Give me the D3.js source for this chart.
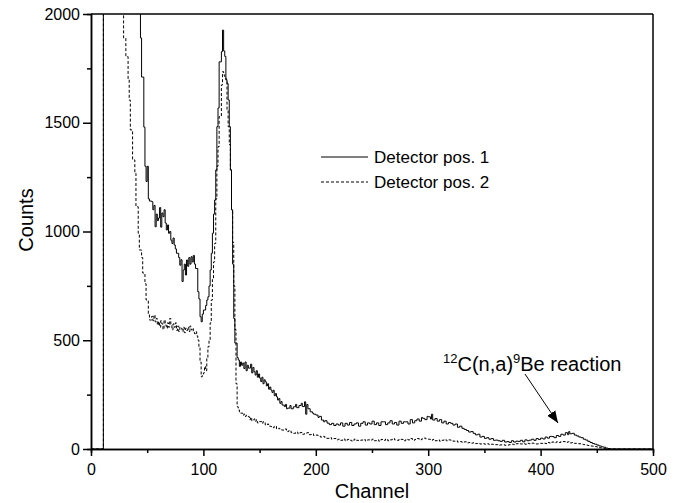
<!DOCTYPE html>
<html>
<head>
<meta charset="utf-8">
<script src="https://cdn.jsdelivr.net/npm/d3@7"></script>
<style>
  body { margin: 0; background: #fff; }
  svg { display: block; font-family: Arial, "Liberation Sans", sans-serif; }
  .axis path, .axis line { stroke: #000; stroke-width: 1.5; }
  .axis text { font-size: 16px; fill: #000; }
</style>
</head>
<body>
<svg id="chart"></svg>
<script>
// Axis ticks
const xTicks = [0, 100, 200, 300, 400, 500];
const xMinorTicks = [50, 150, 250, 350, 450];
const yTicks = [0, 500, 1000, 1500, 2000];
const yMinorTicks = [250, 750, 1250, 1750];

// Series names
const seriesNames = ["Detector pos. 1", "Detector pos. 2"];

// Detector pos. 1 spectrum: [channel, counts]
const pos1 = [
    [0, 0], [11, 2600], [44, 1890], [45, 1710], [47, 1480], [48, 1300], [49, 1230], [50, 1300],
    [51, 1150], [52, 1140], [54, 1137], [55, 1100], [56, 1120], [57, 1022], [58, 1080], [59, 1050],
    [60, 1062], [61, 1110], [62, 1020], [63, 1085], [64, 1068], [65, 1100], [66, 1039], [67, 1007],
    [68, 1030], [69, 992], [70, 1000], [71, 960], [72, 945], [73, 970], [74, 938], [75, 920],
    [76, 900], [78, 880], [79, 845], [80, 870], [81, 770], [82, 823], [83, 850], [84, 800],
    [85, 869], [86, 840], [87, 880], [88, 850], [89, 884], [90, 860], [91, 890], [92, 850],
    [93, 830], [95, 723], [96, 690], [97, 608], [98, 585], [99, 620], [100, 639], [102, 660],
    [103, 685], [104, 700], [105, 750], [106, 823], [107, 900], [108, 992], [109, 1080], [110, 1145],
    [111, 1283], [112, 1482], [113, 1568], [114, 1780], [116, 1827], [117, 1926], [118, 1830], [119, 1805],
    [120, 1697], [121, 1680], [122, 1605], [123, 1482], [124, 1283], [125, 1100], [126, 850], [127, 600],
    [128, 487], [130, 420], [131, 409], [132, 380], [133, 400], [134, 385], [135, 395], [136, 370],
    [137, 400], [138, 360], [139, 385], [140, 372], [142, 390], [143, 350], [144, 375], [145, 355],
    [146, 340], [147, 360], [148, 330], [149, 345], [150, 326], [151, 310], [152, 330], [153, 300],
    [154, 318], [155, 309], [156, 290], [157, 300], [158, 275], [159, 285], [160, 271], [161, 260],
    [162, 270], [163, 245], [164, 255], [165, 240], [166, 225], [167, 232], [168, 210], [169, 218],
    [170, 202], [172, 195], [173, 205], [174, 185], [175, 188], [177, 200], [178, 185], [180, 194],
    [182, 205], [183, 190], [185, 200], [187, 210], [188, 195], [190, 217], [191, 160], [192, 205],
    [193, 185], [195, 171], [197, 165], [198, 160], [200, 156], [202, 145], [203, 150], [205, 133],
    [207, 125], [208, 130], [210, 119], [212, 112], [214, 118], [216, 108], [218, 115], [220, 110],
    [222, 120], [224, 105], [226, 118], [228, 110], [230, 122], [232, 108], [234, 115], [236, 120],
    [238, 105], [240, 118], [242, 125], [244, 110], [246, 120], [248, 115], [250, 128], [252, 112],
    [254, 120], [256, 108], [258, 125], [260, 125], [262, 112], [264, 120], [266, 130], [268, 115],
    [270, 122], [272, 110], [274, 128], [276, 118], [278, 125], [280, 125], [282, 115], [284, 135],
    [286, 120], [288, 130], [290, 138], [292, 128], [294, 145], [295, 141], [297, 135], [299, 150],
    [300, 148], [302, 138], [303, 160], [304, 133], [306, 140], [308, 128], [310, 135], [312, 120],
    [314, 128], [316, 115], [318, 122], [320, 118], [322, 110], [324, 115], [326, 100], [328, 105],
    [330, 95], [332, 90], [334, 85], [336, 78], [338, 80], [340, 72], [342, 65], [344, 68],
    [346, 55], [348, 58], [350, 49], [352, 52], [354, 45], [356, 48], [358, 40], [360, 41],
    [362, 38], [364, 35], [366, 40], [368, 32], [370, 34], [372, 30], [374, 38], [376, 32],
    [378, 36], [380, 35], [382, 40], [384, 33], [386, 42], [388, 38], [390, 41], [392, 45],
    [394, 40], [396, 48], [398, 44], [400, 50], [402, 46], [404, 55], [406, 50], [408, 58],
    [410, 57], [412, 52], [414, 62], [416, 58], [418, 68], [420, 64], [422, 75], [424, 66],
    [425, 80], [426, 70], [428, 72], [430, 64], [432, 60], [434, 55], [436, 52], [438, 45],
    [440, 41], [442, 35], [444, 30], [446, 25], [448, 22], [450, 18], [452, 14], [454, 10],
    [456, 8], [458, 4], [460, 2], [462, 0], [500, 0]
];

// Detector pos. 2 spectrum: [channel, counts]
const pos2 = [
    [0, 0], [11, 2600], [29, 1890], [31, 1804], [33, 1700], [34, 1604], [35, 1467], [37, 1329],
    [39, 1268], [40, 1114], [42, 992], [43, 915], [45, 880], [46, 809], [48, 760], [49, 685],
    [51, 620], [52, 593], [54, 610], [55, 590], [56, 616], [57, 585], [58, 600], [59, 570],
    [60, 585], [61, 560], [62, 590], [63, 575], [64, 550], [65, 593], [66, 570], [67, 555],
    [68, 580], [69, 560], [70, 600], [71, 570], [72, 548], [73, 575], [74, 560], [75, 580],
    [76, 545], [77, 565], [78, 540], [79, 560], [80, 555], [81, 540], [82, 560], [83, 535],
    [84, 555], [85, 545], [86, 560], [87, 540], [88, 565], [89, 548], [90, 555], [91, 540],
    [92, 530], [93, 539], [94, 520], [95, 501], [96, 470], [97, 400], [98, 332], [99, 340],
    [100, 350], [101, 380], [102, 360], [103, 420], [104, 470], [105, 500], [106, 580], [107, 685],
    [108, 780], [109, 860], [110, 945], [111, 1150], [112, 1300], [113, 1390], [114, 1528], [116, 1674],
    [117, 1735], [118, 1720], [119, 1710], [120, 1700], [121, 1560], [122, 1482], [123, 1400], [124, 1283],
    [125, 1100], [126, 950], [127, 750], [128, 550], [129, 300], [130, 194], [131, 180], [132, 170],
    [133, 165], [135, 155], [136, 160], [137, 150], [138, 155], [140, 148], [141, 135], [142, 145],
    [143, 130], [145, 138], [146, 128], [147, 135], [148, 120], [150, 126], [152, 118], [153, 125],
    [155, 110], [157, 115], [158, 105], [160, 103], [162, 98], [163, 105], [165, 92], [167, 95],
    [168, 88], [170, 87], [172, 92], [174, 80], [176, 85], [178, 75], [180, 72], [182, 78],
    [184, 70], [186, 76], [188, 68], [190, 72], [192, 75], [194, 66], [196, 70], [198, 62],
    [200, 64], [202, 60], [204, 55], [206, 58], [208, 50], [210, 49], [212, 52], [214, 45],
    [216, 48], [218, 42], [220, 45], [222, 40], [224, 46], [226, 38], [228, 44], [230, 40],
    [232, 36], [234, 45], [236, 40], [238, 38], [240, 41], [242, 44], [244, 37], [246, 42],
    [248, 40], [250, 45], [252, 38], [254, 42], [256, 36], [258, 44], [260, 40], [262, 46],
    [264, 38], [266, 42], [268, 48], [270, 42], [272, 40], [274, 46], [276, 44], [278, 38],
    [280, 45], [282, 42], [284, 48], [286, 40], [288, 44], [290, 48], [292, 42], [294, 46],
    [296, 50], [298, 45], [300, 45], [302, 40], [304, 44], [306, 38], [308, 42], [310, 36],
    [312, 40], [314, 44], [316, 38], [318, 42], [320, 40], [322, 36], [324, 38], [326, 32],
    [328, 34], [330, 30], [332, 33], [334, 28], [336, 30], [338, 27], [340, 29], [342, 25],
    [344, 27], [346, 23], [348, 25], [350, 22], [352, 24], [354, 20], [356, 22], [358, 19],
    [360, 20], [362, 17], [364, 19], [366, 20], [368, 17], [370, 18], [372, 20], [374, 22],
    [376, 20], [378, 24], [380, 26], [382, 23], [384, 25], [386, 22], [388, 26], [390, 24],
    [392, 27], [394, 25], [396, 23], [398, 26], [400, 26], [402, 28], [404, 25], [406, 30],
    [408, 27], [410, 32], [412, 29], [414, 33], [416, 30], [418, 35], [420, 34], [422, 30],
    [424, 33], [426, 28], [428, 30], [430, 26], [432, 27], [434, 24], [436, 22], [438, 20],
    [440, 18], [442, 16], [444, 14], [446, 13], [448, 11], [450, 9], [452, 6], [454, 4],
    [456, 3], [458, 1], [460, 0], [500, 0]
];

// Chart setup
const width = 679;
const height = 503;
const margin = { top: 14, right: 26, bottom: 54, left: 91 };
const innerW = width - margin.left - margin.right;
const innerH = height - margin.top - margin.bottom;

const svg = d3.select("#chart").attr("width", width).attr("height", height);

const x = d3.scaleLinear().domain([0, 500]).range([0, innerW]);
const y = d3.scaleLinear().domain([0, 2000]).range([innerH, 0]);

const g = svg.append("g").attr("transform", `translate(${margin.left},${margin.top})`);

g.append("clipPath").attr("id", "plot-clip")
    .append("rect").attr("width", innerW).attr("height", innerH);

// Spectra as step lines
const line = d3.line()
    .x((d) => x(d[0]))
    .y((d) => y(d[1]))
    .curve(d3.curveStepAfter);

const plot = g.append("g").attr("clip-path", "url(#plot-clip)");

plot.append("path")
    .datum(pos2)
    .attr("fill", "none")
    .attr("stroke", "#000")
    .attr("stroke-width", 1)
    .attr("stroke-dasharray", "3,2")
    .attr("d", line);

plot.append("path")
    .datum(pos1)
    .attr("fill", "none")
    .attr("stroke", "#000")
    .attr("stroke-width", 1)
    .attr("d", line);

// Frame top and right
g.append("line").attr("x1", 0).attr("x2", innerW).attr("y1", 0).attr("y2", 0)
    .attr("stroke", "#000").attr("stroke-width", 1.5);
g.append("line").attr("x1", innerW).attr("x2", innerW).attr("y1", 0).attr("y2", innerH)
    .attr("stroke", "#000").attr("stroke-width", 1.5);

// Axes
const fmt = d3.format("d");

g.append("g").attr("class", "axis")
    .attr("transform", `translate(0,${innerH})`)
    .call(d3.axisBottom(x).tickValues(xMinorTicks).tickSize(4).tickFormat(""));
g.append("g").attr("class", "axis")
    .attr("transform", `translate(0,${innerH})`)
    .call(d3.axisBottom(x).tickValues(xTicks).tickFormat(fmt).tickSize(7).tickSizeOuter(0))
    .selectAll("text").attr("y", 26).attr("dy", 0);

g.append("g").attr("class", "axis")
    .call(d3.axisLeft(y).tickValues(yMinorTicks).tickSize(4).tickFormat(""));
g.append("g").attr("class", "axis")
    .call(d3.axisLeft(y).tickValues(yTicks).tickFormat(fmt).tickSize(8).tickSizeOuter(0).tickPadding(3));

// Axis titles
svg.append("text")
    .attr("x", margin.left + innerW / 2)
    .attr("y", 498)
    .attr("text-anchor", "middle")
    .attr("font-size", 20)
    .text("Channel");

svg.append("text")
    .attr("transform", "translate(33,220) rotate(-90)")
    .attr("text-anchor", "middle")
    .attr("font-size", 20)
    .text("Counts");

// Legend
const legend = svg.append("g").attr("transform", "translate(321,157)");
seriesNames.forEach((name, i) => {
    const row = legend.append("g").attr("transform", `translate(0,${i * 25})`);
    row.append("line")
        .attr("x1", 0).attr("x2", 47).attr("y1", 0).attr("y2", 0)
        .attr("stroke", "#000").attr("stroke-width", 1)
        .attr("stroke-dasharray", i === 1 ? "3,2" : null);
    row.append("text")
        .attr("x", 53).attr("y", 0).attr("dy", "0.35em")
        .attr("font-size", 17)
        .text(name);
});

// Annotation
const note = svg.append("text")
    .attr("x", 443).attr("y", 371)
    .attr("font-size", 20);
note.append("tspan").attr("font-size", 13).attr("dy", -8).text("12");
note.append("tspan").attr("dy", 8).text("C(n,a)");
note.append("tspan").attr("font-size", 13).attr("dy", -8).text("9");
note.append("tspan").attr("dy", 8).text("Be reaction");

svg.append("defs").append("marker")
    .attr("id", "arrow")
    .attr("viewBox", "0 0 10 10")
    .attr("refX", 10).attr("refY", 5)
    .attr("markerWidth", 12).attr("markerHeight", 12)
    .attr("markerUnits", "userSpaceOnUse")
    .attr("orient", "auto")
    .append("path").attr("d", "M0,1 L10,5 L0,9 Z").attr("fill", "#000");

svg.append("line")
    .attr("x1", 525).attr("y1", 374)
    .attr("x2", 558).attr("y2", 423)
    .attr("stroke", "#000").attr("stroke-width", 1)
    .attr("marker-end", "url(#arrow)");
</script>
</body>
</html>
